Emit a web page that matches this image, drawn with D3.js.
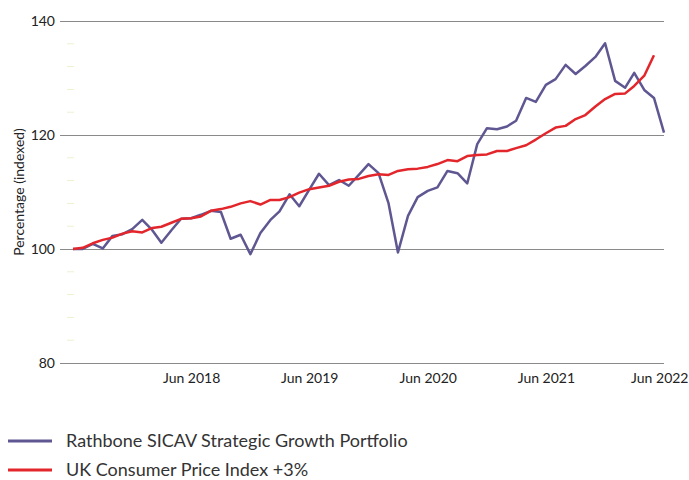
<!DOCTYPE html>
<html>
<head>
<meta charset="utf-8">
<script src="https://cdn.jsdelivr.net/npm/d3@7"></script>
<style>
  body { margin: 0; background: #fff; }
  svg text { font-family: Lato, "Open Sans", sans-serif; fill: #222; }
</style>
</head>
<body>
<div id="chart"></div>
<script>
// Monthly observations, Jun 2017 - Jun 2022
var startMonth = "2017-06";
var portfolio = [100.0, 100.0, 100.9, 100.1, 102.3, 102.6, 103.5, 105.1, 103.3, 101.1,
    103.3, 105.3, 105.4, 106.0, 106.7, 106.5, 101.8, 102.5, 99.1, 102.8,
    105.1, 106.6, 109.6, 107.5, 110.4, 113.2, 111.2, 112.1, 111.1, 113.0,
    114.9, 113.3, 108.0, 99.4, 105.8, 109.1, 110.2, 110.8, 113.7, 113.3,
    111.5, 118.4, 121.2, 121.0, 121.5, 122.5, 126.5, 125.8, 128.8, 129.8,
    132.3, 130.7, 132.1, 133.7, 136.1, 129.5, 128.3, 130.9, 127.9, 126.5,
    120.4];
var cpiPlus3 = [100.0, 100.2, 101.0, 101.6, 102.0, 102.7, 103.1, 102.9, 103.7, 103.9,
    104.6, 105.3, 105.4, 105.7, 106.7, 107.0, 107.4, 108.0, 108.4, 107.8,
    108.6, 108.6, 109.1, 109.9, 110.5, 110.8, 111.1, 111.8, 112.2, 112.3,
    112.8, 113.1, 113.0, 113.7, 114.0, 114.1, 114.4, 114.9, 115.6, 115.4,
    116.3, 116.5, 116.6, 117.2, 117.2, 117.7, 118.2, 119.2, 120.3, 121.3,
    121.6, 122.8, 123.5, 125.0, 126.3, 127.2, 127.3, 128.6, 130.4, 134.0];
var seriesNames = ["Rathbone SICAV Strategic Growth Portfolio", "UK Consumer Price Index +3%"];
var seriesColors = ["#5f5791", "#e3262b"];
var yTicks = [80, 100, 120, 140];
var yMinor = [84, 88, 92, 96, 104, 108, 112, 116, 124, 128, 132, 136];
var xTicks = ["2018-06", "2019-06", "2020-06", "2021-06", "2022-06"];

var width = 689, height = 480;
var parseMonth = d3.timeParse("%Y-%m");
var start = parseMonth(startMonth);

function toPoints(values) {
    return values.map(function (v, i) {
        return {date: d3.timeMonth.offset(start, i), value: v};
    });
}

var series = [toPoints(portfolio), toPoints(cpiPlus3)];

var svg = d3.select("#chart").append("svg")
    .attr("width", width)
    .attr("height", height);

var x = d3.scaleTime()
    .domain([start, d3.timeMonth.offset(start, portfolio.length - 1)])
    .range([73, 664]);

var y = d3.scaleLinear()
    .domain([80, 140])
    .range([363, 21]);

var gridLeft = 60;

// gridlines + y labels
var yAxis = d3.axisLeft(y)
    .tickValues(yTicks)
    .tickSize(-(664 - gridLeft))
    .tickPadding(6)
    .tickFormat(d3.format("d"));

var gy = svg.append("g")
    .attr("transform", "translate(" + gridLeft + ",0)")
    .call(yAxis);
gy.select(".domain").remove();
gy.selectAll(".tick line").attr("stroke", "#8a8a8a").attr("stroke-width", 1);
gy.selectAll(".tick text").style("font-size", "14px").attr("x", -5);

// faint minor marks
svg.append("g").selectAll("line")
    .data(yMinor)
    .enter().append("line")
    .attr("x1", 67).attr("x2", 74)
    .attr("y1", function (d) { return y(d); })
    .attr("y2", function (d) { return y(d); })
    .attr("stroke", "#eef0d0")
    .attr("stroke-width", 1);

// x labels
var xAxis = d3.axisBottom(x)
    .tickValues(xTicks.map(parseMonth))
    .tickSize(0)
    .tickPadding(10)
    .tickFormat(d3.timeFormat("%b %Y"));

var gx = svg.append("g")
    .attr("transform", "translate(0,363)")
    .call(xAxis);
gx.select(".domain").remove();
gx.selectAll(".tick text").style("font-size", "14px");
// last label would run off the right edge, pull it in
gx.selectAll(".tick text").filter(function (d, i) { return i === xTicks.length - 1; })
    .attr("text-anchor", "end")
    .attr("x", 24);

// y title
svg.append("text")
    .attr("transform", "translate(24," + ((21 + 363) / 2) + ") rotate(-90)")
    .attr("text-anchor", "middle")
    .style("font-size", "14px")
    .text("Percentage (indexed)");

var line = d3.line()
    .x(function (d) { return x(d.date); })
    .y(function (d) { return y(d.value); });

svg.selectAll(".series")
    .data(series)
    .enter().append("path")
    .attr("class", "series")
    .attr("fill", "none")
    .attr("stroke", function (d, i) { return seriesColors[i]; })
    .attr("stroke-width", 2.5)
    .attr("stroke-linejoin", "round")
    .attr("d", line);

// legend
var legend = svg.append("g").selectAll("g")
    .data(seriesNames)
    .enter().append("g")
    .attr("transform", function (d, i) { return "translate(8," + (441 + i * 29) + ")"; });

legend.append("line")
    .attr("x1", 0).attr("x2", 44)
    .attr("stroke", function (d, i) { return seriesColors[i]; })
    .attr("stroke-width", 3);

legend.append("text")
    .attr("x", 58)
    .attr("dy", "0.35em")
    .style("font-size", "18px")
    .style("fill", "#333")
    .text(function (d) { return d; });
</script>
</body>
</html>
